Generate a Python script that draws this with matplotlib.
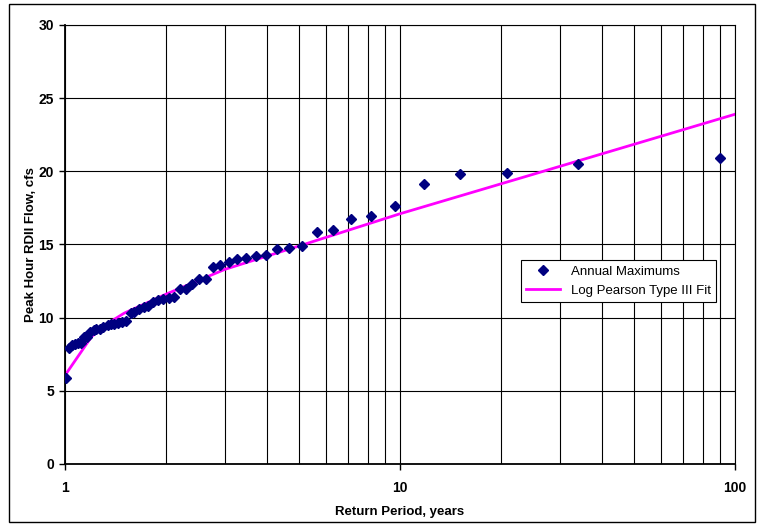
import matplotlib
matplotlib.use("Agg")
import matplotlib.pyplot as plt
from matplotlib.patches import Rectangle
from matplotlib.ticker import FixedLocator, NullFormatter

plt.rcParams['font.family'] = ['Liberation Sans', 'DejaVu Sans']

# annual maximum peak hour RDII flow (cfs), largest first, with return periods (years)
return_period = [90.33, 33.88, 20.85, 15.06, 11.78, 9.68, 8.21, 7.13, 6.30, 5.65,
                 5.11, 4.67, 4.30, 3.99, 3.71, 3.47, 3.27, 3.08, 2.91, 2.77,
                 2.63, 2.51, 2.40, 2.30, 2.20, 2.12, 2.04, 1.96, 1.90, 1.83,
                 1.77, 1.72, 1.66, 1.61, 1.57, 1.52, 1.48, 1.44, 1.40, 1.37,
                 1.34, 1.30, 1.27, 1.24, 1.22, 1.19, 1.16, 1.14, 1.12, 1.09,
                 1.07, 1.05, 1.03, 1.01]
annual_max = [20.9, 20.5, 19.9, 19.8, 19.1, 17.6, 16.95, 16.75, 16.0, 15.86,
              14.92, 14.74, 14.7, 14.26, 14.21, 14.08, 13.99, 13.83, 13.62, 13.47,
              12.67, 12.65, 12.28, 11.96, 11.96, 11.4, 11.33, 11.25, 11.19, 11.07,
              10.8, 10.7, 10.57, 10.4, 10.3, 9.8, 9.7, 9.62, 9.6, 9.55,
              9.5, 9.35, 9.25, 9.2, 9.15, 9.05, 8.7, 8.65, 8.25, 8.25,
              8.2, 8.1, 7.9, 5.9]

# Log Pearson Type III fit
fit_period = [1.01, 1.2, 1.35, 1.5, 2, 3, 5, 10, 25, 50, 100]
fit_flow = [6.2, 8.7, 9.65, 10.3, 11.6, 13.3, 14.9, 17.1, 19.8, 21.85, 23.9]

fig = plt.figure(figsize=(7.63, 5.25), dpi=100)
ax = fig.add_axes([0.0852, 0.1162, 0.8781, 0.8362])

ax.plot(return_period, annual_max, linestyle='none', marker='D', markersize=5,
        color='#000080', label='Annual Maximums', zorder=3)
ax.plot(fit_period, fit_flow, color='#FF00FF', linewidth=2, label='Log Pearson Type III Fit', zorder=2)

ax.set_xscale('log')
ax.set_xlim(1, 100)
ax.set_ylim(0, 30)
ax.set_yticks([0, 5, 10, 15, 20, 25, 30])
ax.set_xticks([1, 10, 100])
ax.set_xticklabels(['1', '10', '100'])
ax.xaxis.set_minor_locator(FixedLocator([2, 3, 4, 5, 6, 7, 8, 9, 20, 30, 40, 50, 60, 70, 80, 90]))
ax.xaxis.set_minor_formatter(NullFormatter())

ax.grid(True, which='both', axis='x', color='black', linewidth=0.8)
ax.grid(True, which='major', axis='y', color='black', linewidth=0.8)
ax.set_axisbelow(True)

ax.tick_params(axis='both', which='major', direction='out', length=4, width=1,
               labelsize=10, pad=4)
ax.tick_params(axis='x', which='minor', length=0)
for lab in ax.get_xticklabels() + ax.get_yticklabels():
    lab.set_fontweight('bold')
ax.tick_params(axis='x', pad=8)

for side in ['left', 'bottom']:
    ax.spines[side].set_linewidth(1.3)
for side in ['top', 'right']:
    ax.spines[side].set_linewidth(0.8)

ax.set_xlabel('Return Period, years', fontsize=9.5, fontweight='bold', labelpad=8)
ax.set_ylabel('Peak Hour RDII Flow, cfs', fontsize=9.5, fontweight='bold')
ax.yaxis.set_label_coords(-0.042, 0.5)

leg = ax.legend(loc='lower left', bbox_to_anchor=(0.68, 0.369), borderaxespad=0,
                fancybox=False, edgecolor='black', framealpha=1, fontsize=9.5,
                handlelength=2.6, numpoints=1)
leg.get_frame().set_linewidth(0.8)

fig.patches.append(Rectangle((0.012, 0.006), 0.978, 0.986, transform=fig.transFigure,
                             fill=False, edgecolor='black', linewidth=1))

plt.savefig('out.png', dpi=100)
